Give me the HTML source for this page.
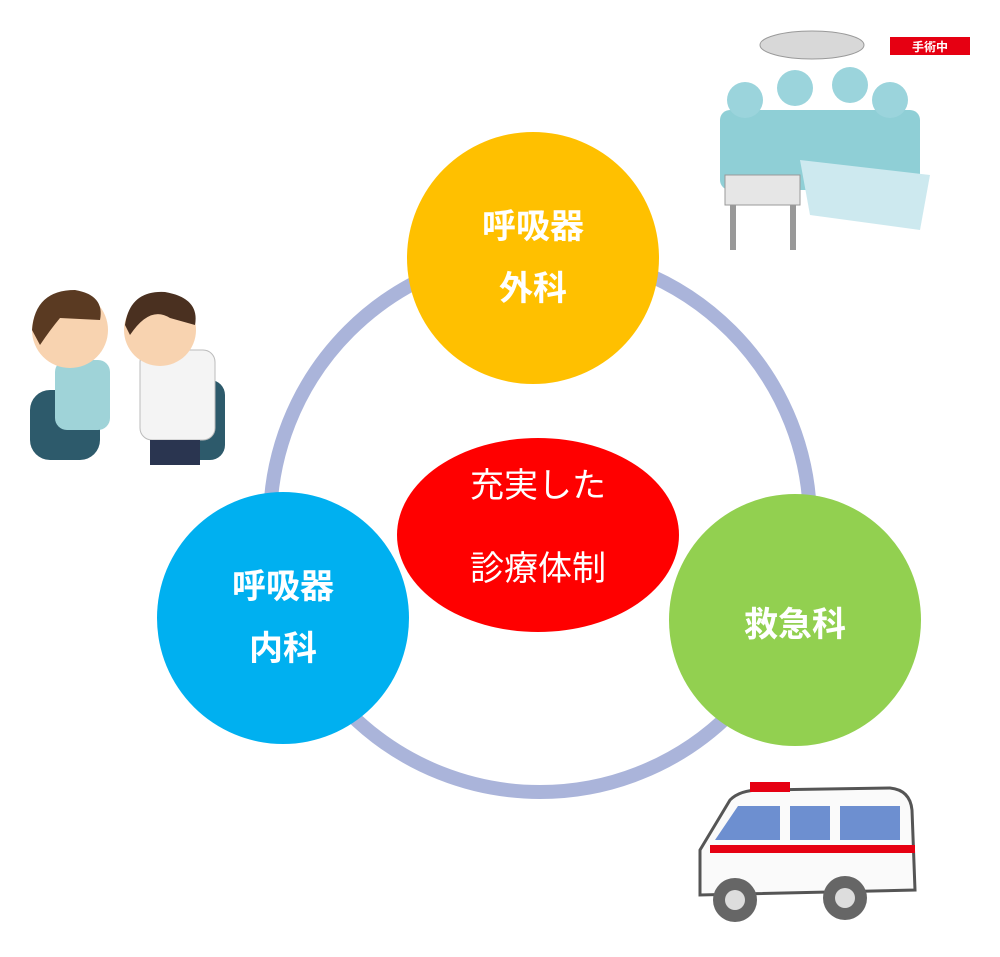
<!DOCTYPE html>
<html><head><meta charset="utf-8"><style>
body{margin:0;background:#fff;}
svg{display:block}
text{font-family:"Liberation Sans","Noto Sans CJK JP",sans-serif;fill:#fff;text-anchor:middle}
</style></head><body>
<svg width="1000" height="957" viewBox="0 0 1000 957">
<!-- ring -->
<circle cx="540" cy="522" r="270" fill="none" stroke="#aab4da" stroke-width="14"/>
<!-- top -->
<circle cx="533" cy="258" r="126" fill="#ffc000"/>
<text x="533" y="238" font-size="34" font-weight="bold">呼吸器</text>
<text x="533" y="300" font-size="34" font-weight="bold">外科</text>
<!-- left -->
<circle cx="283" cy="618" r="126" fill="#00b0f0"/>
<text x="283" y="598" font-size="34" font-weight="bold">呼吸器</text>
<text x="283" y="660" font-size="34" font-weight="bold">内科</text>
<!-- right -->
<circle cx="795" cy="620" r="126" fill="#92d050"/>
<text x="795" y="636" font-size="34" font-weight="bold">救急科</text>
<!-- center -->
<ellipse cx="538" cy="535" rx="141" ry="97" fill="#ff0000"/>
<text x="538" y="497" font-size="34">充実した</text>
<text x="538" y="580" font-size="34">診療体制</text>

<!-- doctor/patient illustration -->
<g>
<rect x="30" y="390" width="70" height="70" rx="20" fill="#2d5a6b"/>
<rect x="55" y="360" width="55" height="70" rx="12" fill="#9fd3d8"/>
<circle cx="70" cy="330" r="38" fill="#f8d3b0"/>
<path d="M32 330 Q35 290 75 290 Q105 295 100 320 L60 318 Q50 330 40 345Z" fill="#5a3a22"/>
<rect x="185" y="380" width="40" height="80" rx="15" fill="#2d5a6b"/>
<rect x="140" y="350" width="75" height="90" rx="12" fill="#f4f4f4" stroke="#bbb"/>
<circle cx="160" cy="330" r="36" fill="#f8d3b0"/>
<path d="M125 325 Q130 290 165 292 Q200 298 195 325 L170 318 Q150 305 130 335Z" fill="#4a3020"/>
<rect x="150" y="440" width="50" height="25" fill="#2a3550"/>
</g>

<!-- operating room -->
<g>
<ellipse cx="812" cy="45" rx="52" ry="14" fill="#d8d8d8" stroke="#999"/>
<rect x="890" y="37" width="80" height="18" fill="#e60012"/>
<text x="930" y="51" font-size="12" font-weight="bold">手術中</text>
<rect x="720" y="110" width="200" height="80" rx="10" fill="#8fcfd6"/>
<circle cx="745" cy="100" r="18" fill="#9bd4dc"/>
<circle cx="795" cy="88" r="18" fill="#9bd4dc"/>
<circle cx="850" cy="85" r="18" fill="#9bd4dc"/>
<circle cx="890" cy="100" r="18" fill="#9bd4dc"/>
<path d="M800 160 L930 175 L920 230 L810 215Z" fill="#cde9ef"/>
<rect x="725" y="175" width="75" height="30" fill="#e6e6e6" stroke="#999"/>
<rect x="730" y="205" width="6" height="45" fill="#999"/><rect x="790" y="205" width="6" height="45" fill="#999"/>
</g>

<!-- ambulance -->
<g>
<path d="M700 850 L730 800 Q740 790 760 790 L890 788 Q910 790 912 810 L915 890 L700 895Z" fill="#fafafa" stroke="#555" stroke-width="3"/>
<rect x="750" y="782" width="40" height="10" fill="#e60012"/>
<rect x="710" y="845" width="205" height="8" fill="#e60012"/>
<path d="M715 840 L738 806 L780 806 L780 840Z" fill="#6d8fd0"/>
<rect x="790" y="806" width="40" height="34" fill="#6d8fd0"/>
<rect x="840" y="806" width="60" height="34" fill="#6d8fd0"/>
<circle cx="735" cy="900" r="22" fill="#666"/><circle cx="735" cy="900" r="10" fill="#ddd"/>
<circle cx="845" cy="898" r="22" fill="#666"/><circle cx="845" cy="898" r="10" fill="#ddd"/>
</g>
</svg>
</body></html>
